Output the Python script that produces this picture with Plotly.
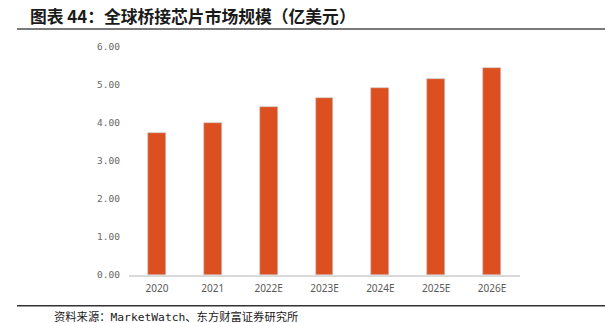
import plotly.graph_objects as go

# Global bridge-chip market size, 100M USD
years = ["2020", "2021", "2022E", "2023E", "2024E", "2025E", "2026E"]
market_size = [3.75, 4.01, 4.42, 4.65, 4.91, 5.17, 5.45]

y_ticks = [0, 1, 2, 3, 4, 5, 6]
y_tick_labels = ["0.00", "1.00", "2.00", "3.00", "4.00", "5.00", "6.00"]

title_text = "图表 44：全球桥接芯片市场规模（亿美元）"
source_text = "资料来源：MarketWatch、东方财富证券研究所"

W, H = 605, 323
ML, MR, MT, MB = 129, 85, 47, 48
PW, PH = W - ML - MR, H - MT - MB


def px_x(px):
    return (px - ML) / PW


def px_y(py):
    return (H - MB - py) / PH


fig = go.Figure(
    go.Bar(
        x=years,
        y=market_size,
        width=0.32,
        marker=dict(color="#DC4F21", line=dict(color="#c9c9c9", width=0.6)),
    )
)

fig.update_layout(
    width=W,
    height=H,
    margin=dict(l=ML, r=MR, t=MT, b=MB, pad=0),
    paper_bgcolor="white",
    plot_bgcolor="white",
    showlegend=False,
    bargap=0,
)

fig.update_xaxes(
    showgrid=False,
    showline=True,
    linecolor="#d9d9d9",
    linewidth=1.5,
    ticks="",
    tickfont=dict(family="Noto Sans, Arial, sans-serif", size=10, color="#595959"),
    ticklabelstandoff=3,
)
fig.update_yaxes(
    range=[0, 6],
    tickvals=y_ticks,
    ticktext=y_tick_labels,
    showgrid=False,
    zeroline=False,
    showline=False,
    ticks="",
    tickfont=dict(family="DejaVu Sans Mono, monospace", size=9.5, color="#666666"),
    ticklabelstandoff=8,
)

# title and rule beneath it
fig.add_annotation(
    text=f"<b>{title_text}</b>",
    xref="paper", yref="paper",
    x=px_x(28), y=px_y(15.5),
    xanchor="left", yanchor="middle",
    showarrow=False,
    font=dict(family="Noto Sans CJK SC", size=16.8, color="#1a1a1a"),
)
fig.add_shape(
    type="line", xref="paper", yref="paper",
    x0=px_x(17), x1=px_x(605), y0=px_y(29), y1=px_y(29),
    line=dict(color="#7a7a7a", width=2),
)

# bottom rule and source note
fig.add_shape(
    type="line", xref="paper", yref="paper",
    x0=px_x(17), x1=px_x(605), y0=px_y(305.7), y1=px_y(305.7),
    line=dict(color="#333333", width=1.5),
)
fig.add_annotation(
    text=source_text,
    xref="paper", yref="paper",
    x=px_x(52), y=px_y(317),
    xanchor="left", yanchor="middle",
    showarrow=False,
    font=dict(family="DejaVu Sans Mono, Noto Sans CJK SC", size=11.3, color="#1a1a1a"),
)

fig.write_html("out.html")
